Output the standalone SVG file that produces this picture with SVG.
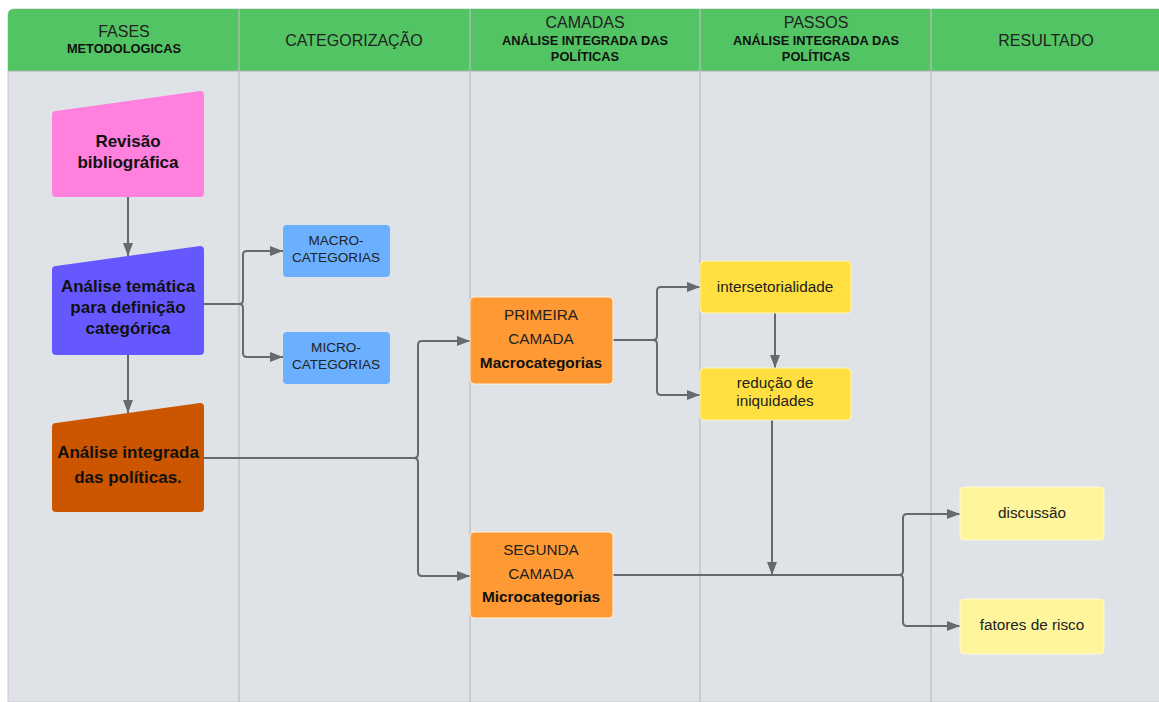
<svg xmlns="http://www.w3.org/2000/svg" width="1159" height="702" viewBox="0 0 1159 702">
<defs>
<marker id="arr" markerUnits="userSpaceOnUse" markerWidth="14" markerHeight="10" refX="13" refY="5" orient="auto">
<path d="M0,0 L13,5 L0,10 Z" fill="#666A6E"/>
</marker>
<style>
.hdr{font-family:"Liberation Sans",Arial,sans-serif;font-size:16px;fill:#222;text-anchor:middle}
.hsub{font-family:"Liberation Sans",Arial,sans-serif;font-size:12.8px;font-weight:bold;fill:#111;text-anchor:middle}
.nb{font-family:"Liberation Sans",Arial,sans-serif;font-size:17px;font-weight:bold;fill:#111;text-anchor:middle}
.n{font-family:"Liberation Sans",Arial,sans-serif;font-size:15.3px;fill:#222;text-anchor:middle}
.nbs{font-family:"Liberation Sans",Arial,sans-serif;font-size:15.4px;font-weight:bold;fill:#111;text-anchor:middle}
.ns{font-family:"Liberation Sans",Arial,sans-serif;font-size:13.6px;fill:#222;text-anchor:middle}
.div{stroke:#B9BDC4;stroke-width:1.2}
.c{fill:none;stroke:#666A6E;stroke-width:2}
</style>
</defs>
<rect width="1159" height="702" fill="#FFFFFF"/>
<g id="lanes">
<path d="M8,702 V15 Q8,9 14,9 H1170 V702 Z" fill="#DFE2E7" stroke="#C6CACF" stroke-width="1"/>
<path d="M8,71 V15 Q8,9 14,9 H1170 V71 Z" fill="#53C463"/>
<line x1="8" y1="71" x2="1159" y2="71" stroke="#A9B4AC" stroke-width="1"/>
<line class="div" x1="239" y1="9" x2="239" y2="702"/>
<line class="div" x1="470" y1="9" x2="470" y2="702"/>
<line class="div" x1="700" y1="9" x2="700" y2="702"/>
<line class="div" x1="931" y1="9" x2="931" y2="702"/>
<text class="hdr" x="124" y="37">FASES</text>
<text class="hsub" x="124" y="53">METODOLOGICAS</text>
<text class="hdr" x="354" y="46">CATEGORIZAÇÃO</text>
<text class="hdr" x="585" y="28">CAMADAS</text>
<text class="hsub" x="585" y="45">ANÁLISE INTEGRADA DAS</text>
<text class="hsub" x="585" y="61">POLÍTICAS</text>
<text class="hdr" x="816" y="28">PASSOS</text>
<text class="hsub" x="816" y="45">ANÁLISE INTEGRADA DAS</text>
<text class="hsub" x="816" y="61">POLÍTICAS</text>
<text class="hdr" x="1046" y="46">RESULTADO</text>
</g>
<g id="connectors">
<line class="c" x1="128" y1="197" x2="128" y2="256" marker-end="url(#arr)"/>
<line class="c" x1="128" y1="355" x2="128" y2="413" marker-end="url(#arr)"/>
<path class="c" d="M204,304 H239 Q243,304 243,300 V255 Q243,251 247,251 H283" marker-end="url(#arr)"/>
<path class="c" d="M239,304 Q243,304 243,308 V353 Q243,357 247,357 H283" marker-end="url(#arr)"/>
<path class="c" d="M204,458 H414 Q418,458 418,454 V345 Q418,341 422,341 H470" marker-end="url(#arr)"/>
<path class="c" d="M414,458 Q418,458 418,462 V572 Q418,576 422,576 H470" marker-end="url(#arr)"/>
<path class="c" d="M613,340 H653 Q657,340 657,336 V291 Q657,287 661,287 H700" marker-end="url(#arr)"/>
<path class="c" d="M653,340 Q657,340 657,344 V391 Q657,395 661,395 H700" marker-end="url(#arr)"/>
<line class="c" x1="775" y1="313" x2="775" y2="368" marker-end="url(#arr)"/>
<line class="c" x1="772" y1="420" x2="772" y2="575" marker-end="url(#arr)"/>
<path class="c" d="M613,575 H899 Q903,575 903,571 V518 Q903,514 907,514 H960" marker-end="url(#arr)"/>
<path class="c" d="M899,575 Q903,575 903,579 V622 Q903,626 907,626 H960" marker-end="url(#arr)"/>
</g>
<g id="revisao">
<path d="M56,111 L200,91 Q204,91 204,95 V193 Q204,197 200,197 H56 Q52,197 52,193 V115 Q52,111 56,111 Z" fill="#FF80DD"/>
<text class="nb" x="128" y="147">Revisão</text>
<text class="nb" x="128" y="168">bibliográfica</text>
</g>
<g id="analise-tematica">
<path d="M56,266 L200,246 Q204,246 204,250 V351 Q204,355 200,355 H56 Q52,355 52,351 V270 Q52,266 56,266 Z" fill="#6658FF"/>
<text class="nb" x="128" y="292">Análise temática</text>
<text class="nb" x="128" y="313">para definição</text>
<text class="nb" x="128" y="334">categórica</text>
</g>
<g id="analise-integrada">
<path d="M56,423 L200,403 Q204,403 204,407 V508 Q204,512 200,512 H56 Q52,512 52,508 V427 Q52,423 56,423 Z" fill="#CC5500"/>
<text class="nb" x="128" y="458">Análise integrada</text>
<text class="nb" x="128" y="483">das políticas.</text>
</g>
<g id="macro">
<rect x="283" y="225" width="107" height="52" rx="4" fill="#6AB0FF"/>
<text class="ns" x="336" y="245">MACRO-</text>
<text class="ns" x="336" y="262">CATEGORIAS</text>
</g>
<g id="micro">
<rect x="283" y="332" width="107" height="52" rx="4" fill="#6AB0FF"/>
<text class="ns" x="336" y="352">MICRO-</text>
<text class="ns" x="336" y="369">CATEGORIAS</text>
</g>
<g id="primeira">
<rect x="470" y="297" width="143" height="87" rx="4" fill="#FF9933" stroke="#FFF3E0" stroke-width="1"/>
<text class="n" x="541" y="320">PRIMEIRA</text>
<text class="n" x="541" y="344">CAMADA</text>
<text class="nbs" x="541" y="368">Macrocategorias</text>
</g>
<g id="segunda">
<rect x="470" y="532" width="143" height="86" rx="4" fill="#FF9933" stroke="#FFF3E0" stroke-width="1"/>
<text class="n" x="541" y="555">SEGUNDA</text>
<text class="n" x="541" y="579">CAMADA</text>
<text class="nbs" x="541" y="602">Microcategorias</text>
</g>
<g id="intersetorialidade">
<rect x="700" y="261" width="151" height="52" rx="4" fill="#FFE040" stroke="#FFF6C0" stroke-width="1"/>
<text class="n" x="775" y="292">intersetorialidade</text>
</g>
<g id="reducao">
<rect x="700" y="368" width="151" height="52" rx="4" fill="#FFE040" stroke="#FFF6C0" stroke-width="1"/>
<text class="n" x="775" y="388">redução de</text>
<text class="n" x="775" y="406">iniquidades</text>
</g>
<g id="discussao">
<rect x="960" y="487" width="144" height="53" rx="4" fill="#FFF59D" stroke="#FFFBD8" stroke-width="1"/>
<text class="n" x="1032" y="518">discussão</text>
</g>
<g id="fatores">
<rect x="960" y="599" width="144" height="55" rx="4" fill="#FFF59D" stroke="#FFFBD8" stroke-width="1"/>
<text class="n" x="1032" y="630">fatores de risco</text>
</g>
</svg>
